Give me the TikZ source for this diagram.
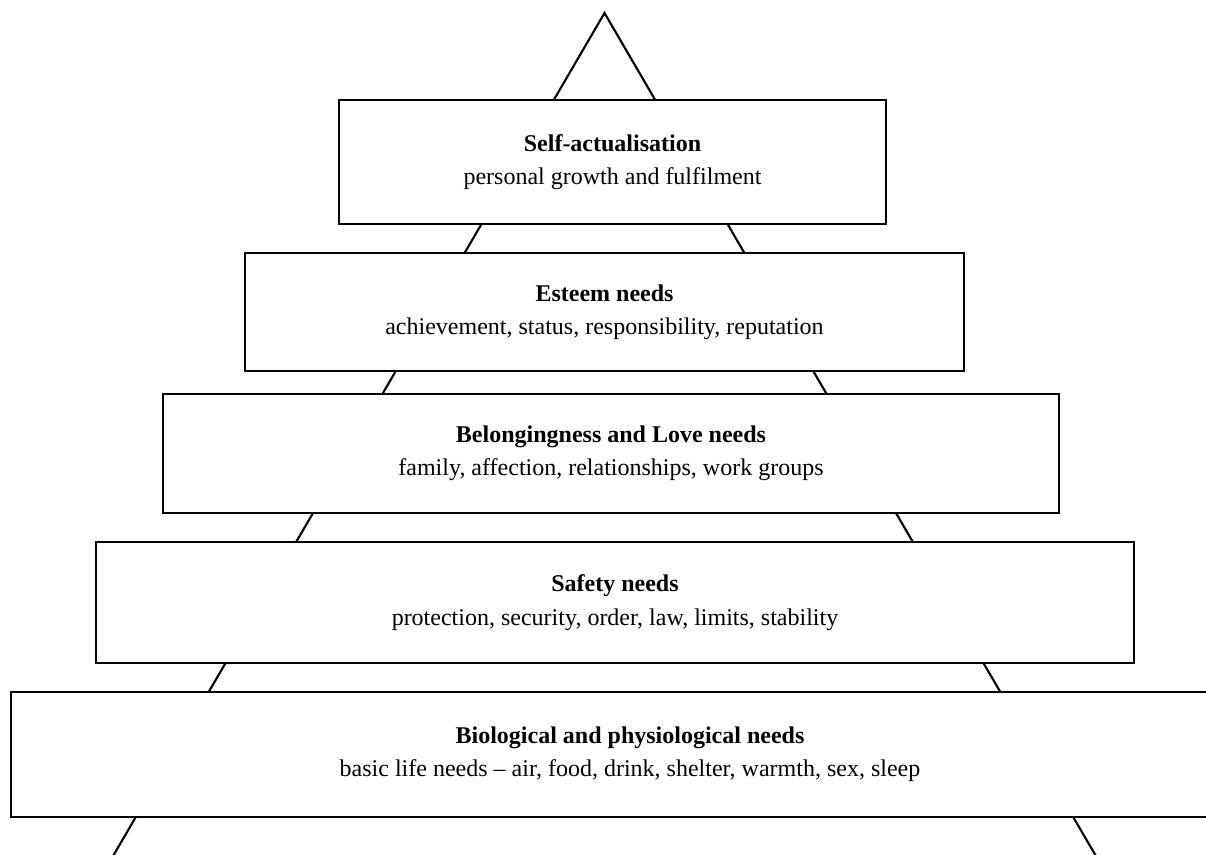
\documentclass[tikz,border=0pt]{standalone}
\usepackage{fontspec}
\setmainfont{Liberation Serif}
\begin{document}
\begin{tikzpicture}[x=0.75pt,y=-0.75pt,
  level/.style={draw=black, line width=1.8pt, fill=white, inner sep=0pt,
    align=center, font=\fontsize{18}{25}\selectfont},
  side/.style={line width=1.6pt}]
\useasboundingbox (0,0) rectangle (1206,855);
\clip (0,0) rectangle (1206,855);
% pyramid outline, partly covered by the level boxes
\coordinate (apex) at (604.5,13);
\coordinate (baseL) at (102,875);
\coordinate (baseR) at (1107,875);
\draw[side, line join=miter] (baseL) -- (apex) -- (baseR);
% the five levels
\node[level, minimum width=410.25pt, minimum height=93pt] (self) at (612.5,162)
  {\textbf{Self-actualisation}\\personal growth and fulfilment};
\node[level, minimum width=539.25pt, minimum height=88.5pt] (esteem) at (604.5,312)
  {\textbf{Esteem needs}\\achievement, status, responsibility, reputation};
\node[level, minimum width=672pt, minimum height=89.25pt] (belong) at (611,453.5)
  {\textbf{Belongingness and Love needs}\\family, affection, relationships, work groups};
\node[level, minimum width=778.5pt, minimum height=90.75pt] (safety) at (615,602.5)
  {\textbf{Safety needs}\\protection, security, order, law, limits, stability};
\node[level, minimum width=914.25pt, minimum height=93.75pt] (bio) at (620.5,754.5) {};
\node[align=center, inner sep=0pt, font=\fontsize{18}{25}\selectfont] (biotext) at (630,754.5)
  {\textbf{Biological and physiological needs}\\basic life needs -- air, food, drink, shelter, warmth, sex, sleep};
\end{tikzpicture}
\end{document}
